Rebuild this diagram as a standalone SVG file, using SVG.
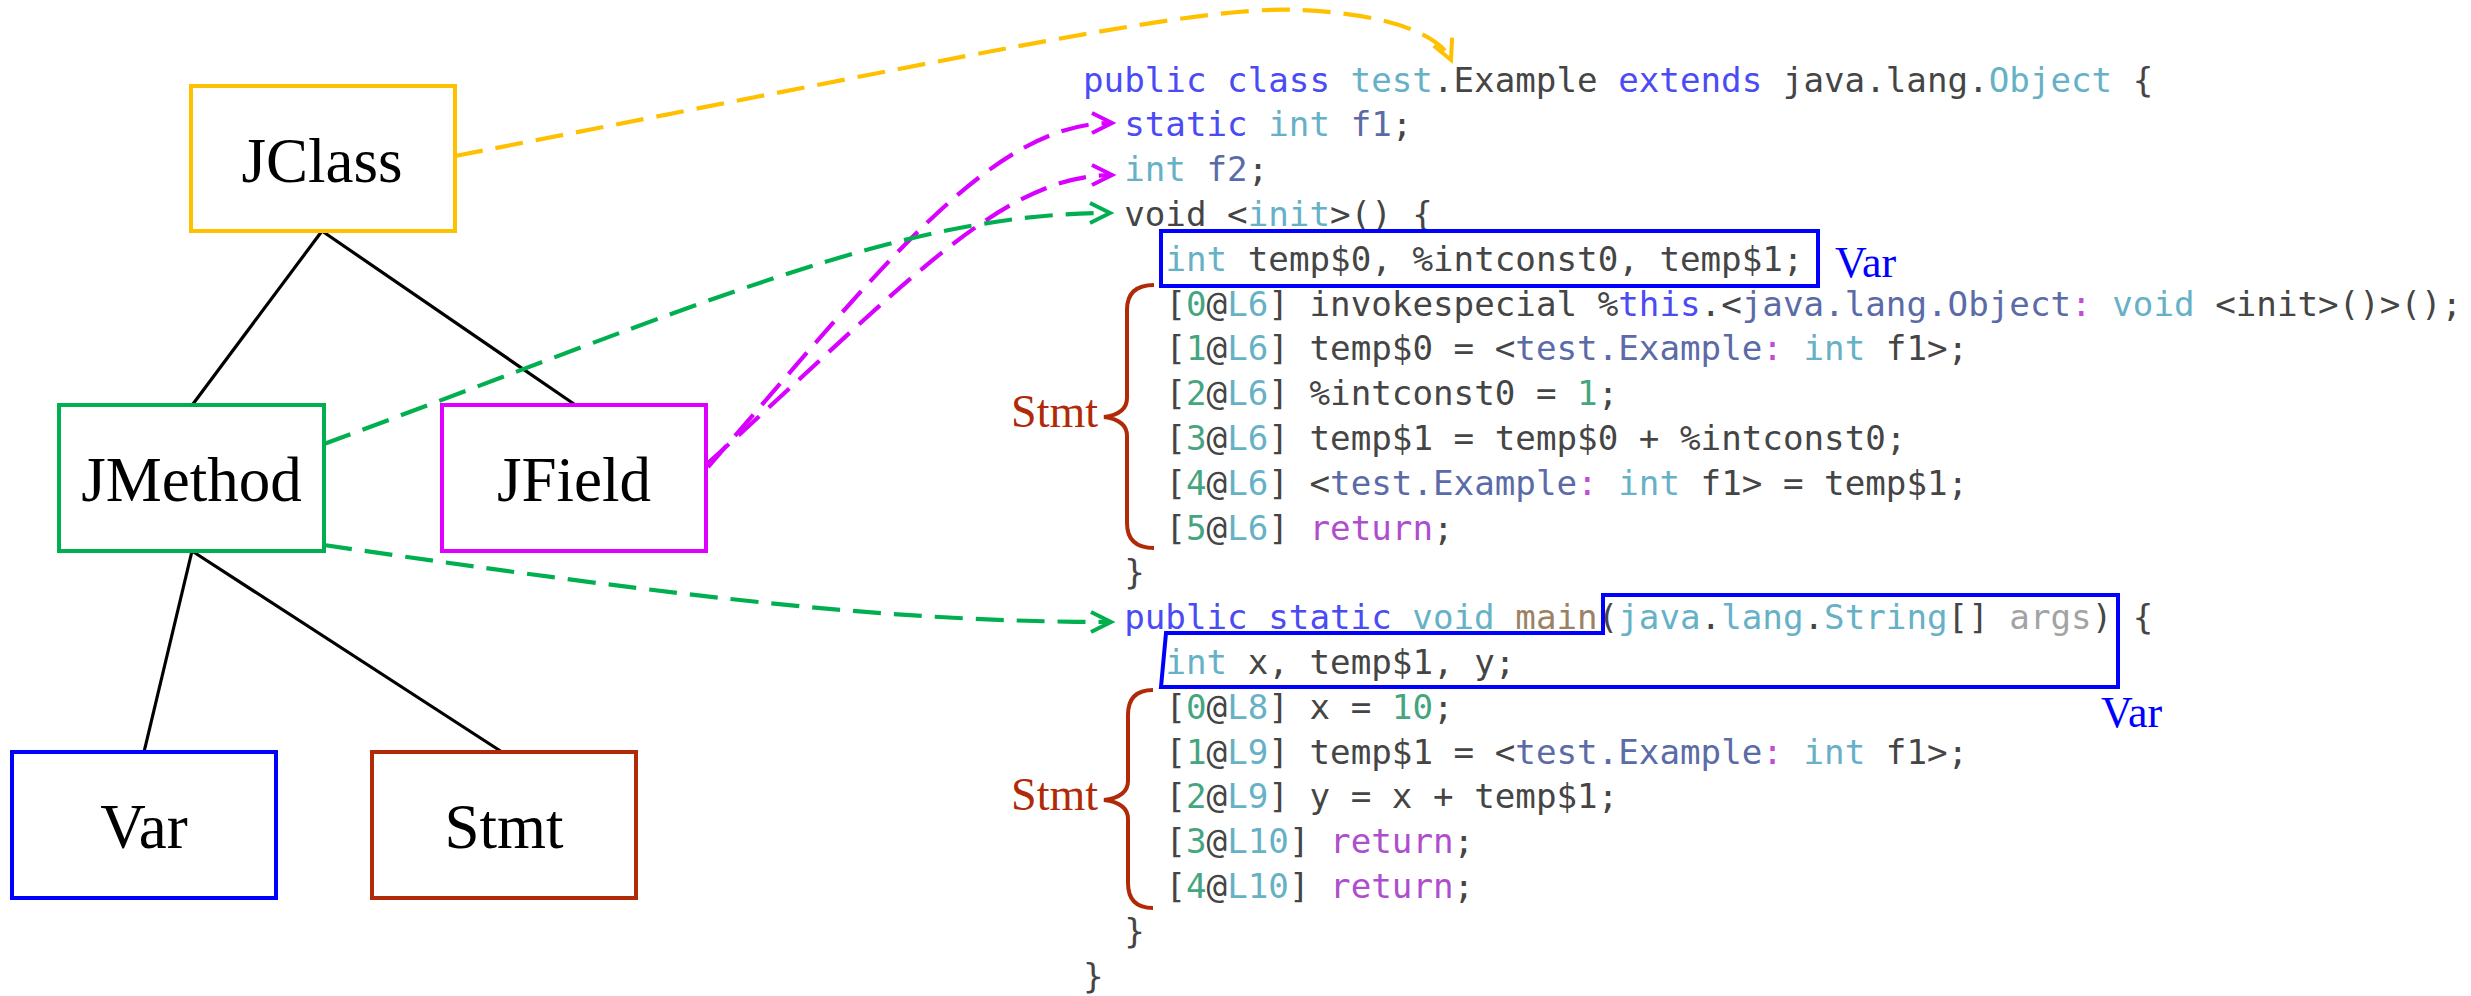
<svg xmlns="http://www.w3.org/2000/svg" width="2471" height="996" viewBox="0 0 2471 996">
<style>
.node rect{fill:#fff;stroke-width:4}
.lbl{font-family:"Liberation Serif","Times New Roman",serif;font-size:63px;text-anchor:middle;fill:#000}
.tree line{stroke:#000;stroke-width:3.2}
.code text{font-family:"DejaVu Sans Mono","Liberation Mono",monospace;font-size:34.2px;fill:#454545;white-space:pre}
.k{fill:#4B4BF5}.t{fill:#66B1C6}.s{fill:#5B6BA8}.n{fill:#44A57F}.c{fill:#C04CD8}.r{fill:#AE4ECF}.m{fill:#9C8262}.a{fill:#A3A3A3}
.dash{fill:none;stroke-width:4.2;stroke-dasharray:28 13}
.ann{font-family:"Liberation Serif","Times New Roman",serif}
.brace{fill:none;stroke:#B02A08;stroke-width:4}
.vbox{fill:none;stroke:#0000FF;stroke-width:4}
</style>
<defs>
<marker id="aY" markerUnits="userSpaceOnUse" markerWidth="28" markerHeight="28" viewBox="-24 -14 28 28" refX="0" refY="0" orient="auto" overflow="visible"><path d="M-20,-10 L0,0 L-20,10" fill="none" stroke="#FFC000" stroke-width="4"/></marker>
<marker id="aM" markerUnits="userSpaceOnUse" markerWidth="28" markerHeight="28" viewBox="-24 -14 28 28" refX="0" refY="0" orient="auto" overflow="visible"><path d="M-20,-10 L0,0 L-20,10" fill="none" stroke="#D800FF" stroke-width="4"/></marker>
<marker id="aG" markerUnits="userSpaceOnUse" markerWidth="28" markerHeight="28" viewBox="-24 -14 28 28" refX="0" refY="0" orient="auto" overflow="visible"><path d="M-20,-10 L0,0 L-20,10" fill="none" stroke="#00B050" stroke-width="4"/></marker>
</defs>
<rect width="2471" height="996" fill="#fff"/>

<g id="connectors">
<g class="tree">
<line x1="322" y1="231" x2="193" y2="404"/>
<line x1="322" y1="231" x2="574" y2="404"/>
<line x1="192" y1="551" x2="144" y2="752"/>
<line x1="192" y1="551" x2="502" y2="752"/>
</g>
<path class="dash" stroke="#FFC000" d="M455,156 C1000,50 1200,5 1300,10 C1390,14 1440,35 1451,60" marker-end="url(#aY)"/>
<path class="dash" stroke="#D800FF" d="M708,467 C880,270 990,123 1112,123" marker-end="url(#aM)"/>
<path class="dash" stroke="#D800FF" d="M708,463 C900,290 1000,175 1112,175" marker-end="url(#aM)"/>
<path class="dash" stroke="#00B050" d="M324,444 C700,305 900,213 1110,213" marker-end="url(#aG)"/>
<path class="dash" stroke="#00B050" d="M324,545 C700,600 900,622 1111,622" marker-end="url(#aG)"/>
</g>

<g id="jclass" class="node"><rect x="191" y="86" width="264" height="145" stroke="#FFC000"/><text class="lbl" x="322" y="182">JClass</text></g>
<g id="jmethod" class="node"><rect x="59" y="405" width="265" height="146" stroke="#00B050"/><text class="lbl" x="191.5" y="501">JMethod</text></g>
<g id="jfield" class="node"><rect x="442" y="405" width="264" height="146" stroke="#DD00FF"/><text class="lbl" x="574" y="501">JField</text></g>
<g id="var" class="node"><rect x="12" y="752" width="264" height="146" stroke="#0000FF"/><text class="lbl" x="144" y="848">Var</text></g>
<g id="stmt" class="node"><rect x="372" y="752" width="264" height="146" stroke="#B02A08"/><text class="lbl" x="504" y="848">Stmt</text></g>

<g id="code" class="code">
<text x="1083" y="91.5" xml:space="preserve"><tspan class="k">public class </tspan><tspan class="t">test</tspan>.Example <tspan class="k">extends</tspan> java.lang.<tspan class="t">Object</tspan> {</text>
<text x="1124.2" y="136.3" xml:space="preserve"><tspan class="k">static</tspan> <tspan class="t">int</tspan> <tspan class="s">f1</tspan>;</text>
<text x="1124.2" y="181.1" xml:space="preserve"><tspan class="t">int</tspan> <tspan class="s">f2</tspan>;</text>
<text x="1124.2" y="225.9" xml:space="preserve">void &lt;<tspan class="t">init</tspan>&gt;() {</text>
<text x="1165.4" y="270.7" xml:space="preserve"><tspan class="t">int</tspan> temp$0, %intconst0, temp$1;</text>
<text x="1165.4" y="315.5" xml:space="preserve">[<tspan class="n">0</tspan>@<tspan class="t">L6</tspan>] invokespecial %<tspan class="k">this</tspan>.&lt;<tspan class="s">java.lang.Object</tspan><tspan class="c">:</tspan> <tspan class="t">void</tspan> &lt;init&gt;()&gt;();</text>
<text x="1165.4" y="360.3" xml:space="preserve">[<tspan class="n">1</tspan>@<tspan class="t">L6</tspan>] temp$0 = &lt;<tspan class="s">test.Example</tspan><tspan class="c">:</tspan> <tspan class="t">int</tspan> f1&gt;;</text>
<text x="1165.4" y="405.1" xml:space="preserve">[<tspan class="n">2</tspan>@<tspan class="t">L6</tspan>] %intconst0 = <tspan class="n">1</tspan>;</text>
<text x="1165.4" y="449.9" xml:space="preserve">[<tspan class="n">3</tspan>@<tspan class="t">L6</tspan>] temp$1 = temp$0 + %intconst0;</text>
<text x="1165.4" y="494.7" xml:space="preserve">[<tspan class="n">4</tspan>@<tspan class="t">L6</tspan>] &lt;<tspan class="s">test.Example</tspan><tspan class="c">:</tspan> <tspan class="t">int</tspan> f1&gt; = temp$1;</text>
<text x="1165.4" y="539.5" xml:space="preserve">[<tspan class="n">5</tspan>@<tspan class="t">L6</tspan>] <tspan class="r">return</tspan>;</text>
<text x="1124.2" y="584.3" xml:space="preserve">}</text>
<text x="1124.2" y="629.1" xml:space="preserve"><tspan class="k">public static</tspan> <tspan class="t">void</tspan> <tspan class="m">main</tspan>(<tspan class="t">java</tspan>.<tspan class="t">lang</tspan>.<tspan class="t">String</tspan>[] <tspan class="a">args</tspan>) {</text>
<text x="1165.4" y="673.9" xml:space="preserve"><tspan class="t">int</tspan> x, temp$1, y;</text>
<text x="1165.4" y="718.7" xml:space="preserve">[<tspan class="n">0</tspan>@<tspan class="t">L8</tspan>] x = <tspan class="n">10</tspan>;</text>
<text x="1165.4" y="763.5" xml:space="preserve">[<tspan class="n">1</tspan>@<tspan class="t">L9</tspan>] temp$1 = &lt;<tspan class="s">test.Example</tspan><tspan class="c">:</tspan> <tspan class="t">int</tspan> f1&gt;;</text>
<text x="1165.4" y="808.3" xml:space="preserve">[<tspan class="n">2</tspan>@<tspan class="t">L9</tspan>] y = x + temp$1;</text>
<text x="1165.4" y="853.1" xml:space="preserve">[<tspan class="n">3</tspan>@<tspan class="t">L10</tspan>] <tspan class="r">return</tspan>;</text>
<text x="1165.4" y="897.9" xml:space="preserve">[<tspan class="n">4</tspan>@<tspan class="t">L10</tspan>] <tspan class="r">return</tspan>;</text>
<text x="1124.2" y="942.7" xml:space="preserve">}</text>
<text x="1083" y="987.5" xml:space="preserve">}</text>
</g>

<g id="var-annotations">
<rect class="vbox" x="1161" y="231" width="657" height="55"/>
<text class="ann" x="1835" y="277" font-size="44" fill="#0000FF">Var</text>
<polygon class="vbox" points="1603,595 2118,595 2118,687 1161,687 1166,633 1603,633"/>
<text class="ann" x="2101" y="727" font-size="44" fill="#0000FF">Var</text>
</g>

<g id="stmt-annotations">
<path class="brace" d="M1154,285 Q1127,285 1127,310 L1127,398 Q1127,414 1104,417 Q1127,420 1127,436 L1127,523 Q1127,548 1154,548"/>
<text class="ann" x="1098" y="427" font-size="46" fill="#B02A08" text-anchor="end">Stmt</text>
<path class="brace" d="M1153,690 Q1128,690 1128,715 L1128,781 Q1128,797 1104,800 Q1128,803 1128,819 L1128,883 Q1128,908 1153,908"/>
<text class="ann" x="1098" y="810" font-size="46" fill="#B02A08" text-anchor="end">Stmt</text>
</g>
</svg>
